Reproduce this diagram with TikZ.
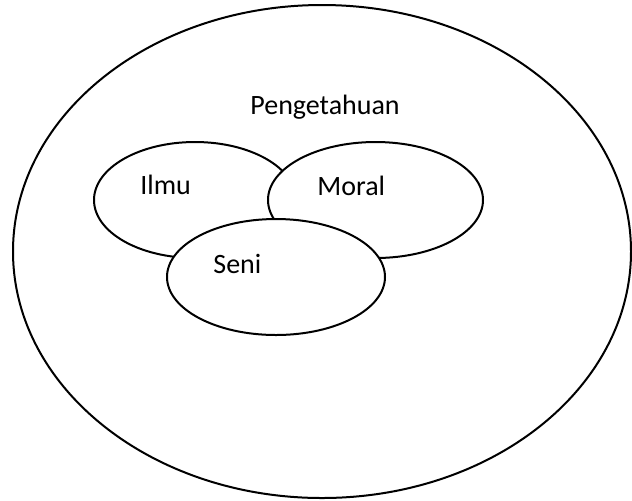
\documentclass[tikz,border=0pt]{standalone}
\usepackage{fontspec}
\setmainfont{Carlito}
\begin{document}
\begin{tikzpicture}[x=0.5pt,y=-0.5pt,
  blob/.style={draw=black,fill=white,line width=1pt},
  lbl/.style={anchor=base west,inner sep=0pt,font=\fontsize{14}{17}\selectfont}]
\useasboundingbox (0,0) rectangle (632,500);
\draw[blob] (322,251.5) ellipse [x radius=309, y radius=246.5];
\node[lbl] (peng) at (250,114) {Pengetahuan};
\draw[blob] (195,200) ellipse [x radius=101, y radius=58];
\draw[blob] (375.5,200) ellipse [x radius=107.5, y radius=58];
\draw[blob] (276,277) ellipse [x radius=109, y radius=58];
\node[lbl] (ilmu) at (140,194) {Ilmu};
\node[lbl] (moral) at (317,195) {Moral};
\node[lbl] (seni) at (213,273) {Seni};
\end{tikzpicture}
\end{document}
